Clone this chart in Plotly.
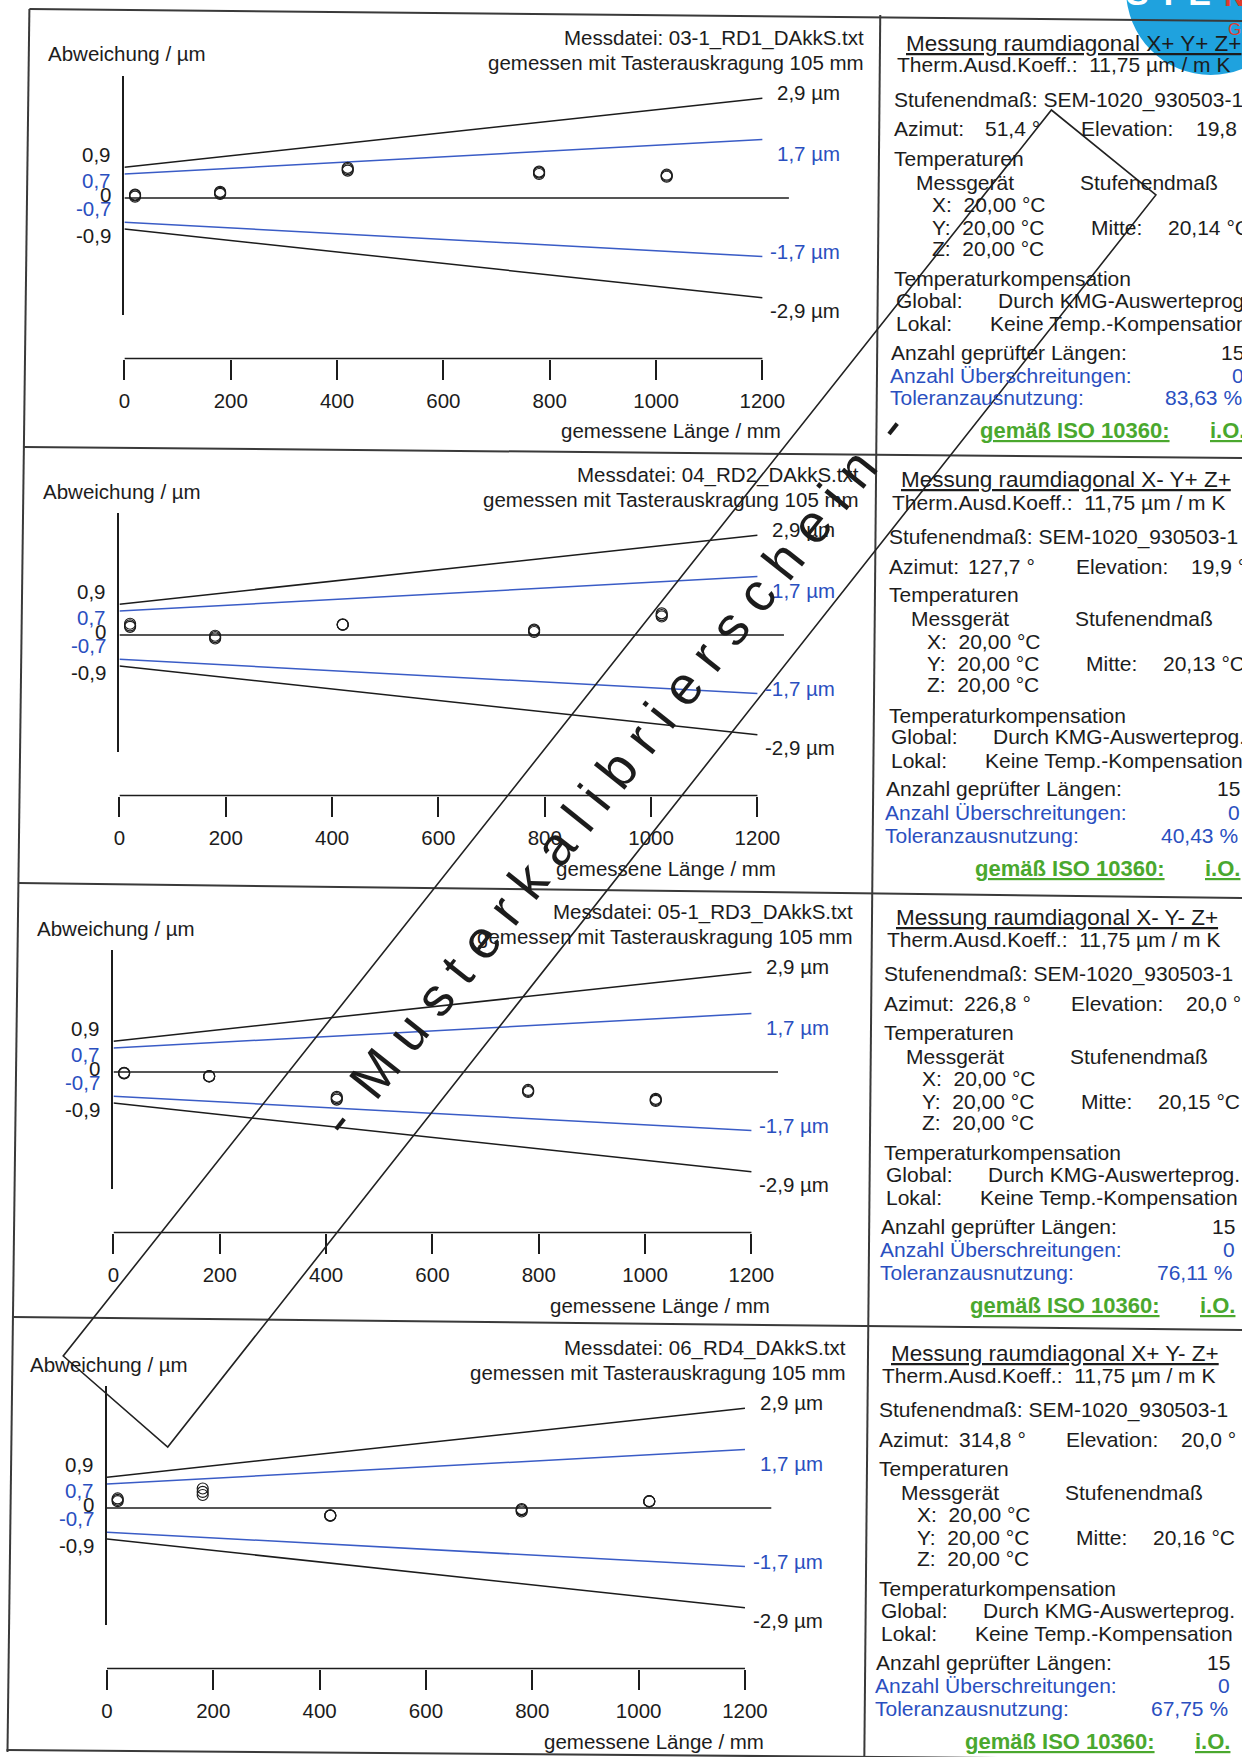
import plotly.graph_objects as go

W, H = 1242, 1757

# ---------------- data ----------------
lengths = [20, 180, 420, 780, 1020]   # gemessene Länge / mm (3 Wiederholungen je Länge)
panel_files = ["03-1_RD1_DAkkS.txt", "04_RD2_DAkkS.txt", "05-1_RD3_DAkkS.txt", "06_RD4_DAkkS.txt"]
panel_dirs = ["X+ Y+ Z+", "X- Y+ Z+", "X- Y- Z+", "X+ Y- Z+"]
azimut = ["51,4 °", "127,7 °", "226,8 °", "314,8 °"]
elevation = ["19,8 °", "19,9 °", "20,0 °", "20,0 °"]
mitte = ["20,14 °C", "20,13 °C", "20,15 °C", "20,16 °C"]
anzahl = ["15", "15", "15", "15"]
ueberschr = ["0", "0", "0", "0"]
toleranz = ["83,63 %", "40,43 %", "76,11 %", "67,75 %"]

dev_rd1 = [[0.04, 0.08, 0.10], [0.12, 0.15, 0.18], [0.80, 0.84, 0.88], [0.70, 0.74, 0.77], [0.62, 0.65, 0.68]]
dev_rd2 = [[0.24, 0.28, 0.33], [-0.10, -0.06, -0.02], [0.30, 0.30, 0.31], [0.09, 0.13, 0.16], [0.54, 0.58, 0.63]]
dev_rd3 = [[-0.04, -0.03, -0.02], [-0.13, -0.12, -0.12], [-0.80, -0.76, -0.72], [-0.58, -0.55, -0.52], [-0.84, -0.81, -0.78]]
dev_rd4 = [[0.20, 0.24, 0.28], [0.38, 0.47, 0.57], [-0.22, -0.22, -0.21], [-0.10, -0.06, -0.03], [0.19, 0.20, 0.20]]
deviations = [dev_rd1, dev_rd2, dev_rd3, dev_rd4]

tol_x = [0, 1200]
outer_upper = [0.9, 2.9]
outer_lower = [-0.9, -2.9]
inner_upper = [0.7, 1.7]
inner_lower = [-0.7, -1.7]
zero_x = [0, 1250]
zero_y = [0, 0]

ytick_vals = [0.9, 0.7, 0, -0.7, -0.9]
ytick_text = ["0,9", "0,7", "0", "-0,7", "-0,9"]
xtick_vals = [0, 200, 400, 600, 800, 1000, 1200]
xtick_text = ["0", "200", "400", "600", "800", "1000", "1200"]
limit_vals = [2.9, 1.7, -1.7, -2.9]
limit_text = ["2,9 µm", "1,7 µm", "-1,7 µm", "-2,9 µm"]

# ---------------- styles / layout ----------------
FONT = "Liberation Sans, Arial, Helvetica, sans-serif"
TXT = "#1c1c1c"
BLUE_TXT = "#2a4fbf"
BLUE_LINE = "#3a5cc6"
GREEN = "#4aa82e"
FRAME = "#3a3a3a"

XOFF = -4.5
PX_PER_MM = 0.5342
Y_RANGE = [-3.4, 3.55]
chart_dx = [17.5, 12.5, 6.5, 0]
text_dx = [15, 10, 5, 0]
panel_dy = [0, 437, 874, 1310]

ytick_color = [TXT, BLUE_TXT, TXT, BLUE_TXT, TXT]
ytick_yshift = [13, -6, 4, 14, -6]
limit_color = [TXT, BLUE_TXT, BLUE_TXT, TXT]
limit_yshift = [6, -14, 5, -13]


def PX(x):
    return (x + XOFF) / W


def PY(y):
    return 1 - y / H


fig = go.Figure()
annotations = []
shapes = []


def ann(x, y, text, size=20.5, color=TXT, xanchor="left", bold=False, underline=False, angle=0):
    f = dict(family=FONT, size=size, color=color)
    if bold:
        f["weight"] = "bold"
    if underline:
        f["lineposition"] = "under"
    annotations.append(dict(x=PX(x), y=PY(y), xref="paper", yref="paper", text=text, showarrow=False,
                            xanchor=xanchor, yanchor="middle", font=f, textangle=angle))


for i in range(4):
    n = i + 1
    xs = "" if n == 1 else str(n)
    dx, dy, tdx = chart_dx[i], panel_dy[i], text_dx[i]
    x0 = 106 + dx
    xa = dict(domain=[PX(x0), PX(x0 + 1250 * PX_PER_MM)], range=[0, 1250], anchor="free",
              position=PY(358.5 + dy), showgrid=False, zeroline=False, showline=False,
              ticks="outside", ticklen=20, tickwidth=1.5, tickcolor=TXT,
              tickvals=xtick_vals, ticktext=xtick_text, ticklabelstandoff=4,
              tickfont=dict(family=FONT, size=20.5, color=TXT))
    ya = dict(domain=[PY(315 + dy), PY(76 + dy)], range=Y_RANGE, anchor="x" + xs,
              showgrid=False, zeroline=False, showline=True, linecolor=TXT, linewidth=1.5,
              showticklabels=False, ticks="")
    fig.layout["xaxis" + xs] = xa
    fig.layout["yaxis" + xs] = ya
    xr, yr = "x" + xs, "y" + xs

    def line(x, y, color):
        fig.add_trace(go.Scatter(x=x, y=y, mode="lines", xaxis=xr, yaxis=yr, hoverinfo="skip",
                                 line=dict(color=color, width=1.5)))

    line(zero_x, zero_y, TXT)
    line(tol_x, outer_upper, TXT)
    line(tol_x, outer_lower, TXT)
    line(tol_x, inner_upper, BLUE_LINE)
    line(tol_x, inner_lower, BLUE_LINE)

    px_, py_ = [], []
    for L, reps in zip(lengths, deviations[i]):
        for v in reps:
            px_.append(L)
            py_.append(v)
    fig.add_trace(go.Scatter(x=px_, y=py_, mode="markers", xaxis=xr, yaxis=yr,
                             marker=dict(symbol="circle-open", size=11, color=TXT, line=dict(width=1.2))))

    # x axis base line (0 .. 1200 mm)
    shapes.append(dict(type="line", xref=xr, yref="paper", x0=0, x1=1200,
                       y0=PY(358.5 + dy), y1=PY(358.5 + dy), line=dict(color=TXT, width=1.5)))

    # y tick labels
    for v, t, c, s in zip(ytick_vals, ytick_text, ytick_color, ytick_yshift):
        annotations.append(dict(x=0, y=v, xref=xr, yref=yr, text=t, showarrow=False, xanchor="right",
                                yanchor="middle", xshift=-11, yshift=s,
                                font=dict(family=FONT, size=20.5, color=c)))
    # limit labels
    for v, t, c, s in zip(limit_vals, limit_text, limit_color, limit_yshift):
        annotations.append(dict(x=1200, y=v, xref=xr, yref=yr, text=t, showarrow=False, xanchor="right",
                                yanchor="middle", xshift=80, yshift=s,
                                font=dict(family=FONT, size=20.5, color=c)))

    ann(27 + dx, 54 + dy, "Abweichung / µm")
    ann(851 + dx, 38 + dy, "Messdatei: " + panel_files[i], xanchor="right")
    ann(851 + dx, 62.5 + dy, "gemessen mit Tasterauskragung 105 mm", xanchor="right")
    ann(768 + dx, 431 + dy, "gemessene Länge / mm", xanchor="right")

    # right column
    X = lambda v: v + tdx
    Y = lambda v: v + dy
    ann(X(892), Y(43), "Messung raumdiagonal " + panel_dirs[i], size=22.5, underline=True)
    ann(X(883), Y(65), "Therm.Ausd.Koeff.:  11,75 µm / m K", size=21)
    ann(X(880), Y(100), "Stufenendmaß: SEM-1020_930503-1", size=21)
    ann(X(880), Y(129), "Azimut:", size=21)
    ann(X(1031), Y(129), azimut[i], size=21, xanchor="right")
    ann(X(1068), Y(129), "Elevation:", size=21)
    ann(X(1183), Y(129), elevation[i], size=21)
    ann(X(880), Y(158), "Temperaturen", size=21)
    ann(X(902), Y(182), "Messgerät", size=21)
    ann(X(1067), Y(182), "Stufenendmaß", size=21)
    ann(X(918), Y(204), "X:  20,00 °C", size=21)
    ann(X(918), Y(227), "Y:  20,00 °C", size=21)
    ann(X(1078), Y(227), "Mitte:", size=21)
    ann(X(1155), Y(227), mitte[i], size=21)
    ann(X(918), Y(248), "Z:  20,00 °C", size=21)
    ann(X(880), Y(278), "Temperaturkompensation", size=21)
    ann(X(882), Y(300), "Global:", size=21)
    ann(X(984), Y(300), "Durch KMG-Auswerteprog.", size=21)
    ann(X(882), Y(323), "Lokal:", size=21)
    ann(X(976), Y(323), "Keine Temp.-Kompensation", size=21)
    ann(X(877), Y(352), "Anzahl geprüfter Längen:", size=21)
    ann(X(1236), Y(352), anzahl[i], size=21, xanchor="right")
    ann(X(876), Y(375), "Anzahl Überschreitungen:", size=21, color=BLUE_TXT)
    ann(X(1236), Y(375), ueberschr[i], size=21, color=BLUE_TXT, xanchor="right")
    ann(X(876), Y(398), "Toleranzausnutzung:", size=21, color=BLUE_TXT)
    ann(X(1234), Y(398), toleranz[i], size=21, color=BLUE_TXT, xanchor="right")
    ann(X(966), Y(431), "gemäß ISO 10360:", size=22, color=GREEN, bold=True, underline=True)
    ann(X(1197), Y(431), "i.O.", size=22, color=GREEN, bold=True, underline=True)

# ---------------- frame (slightly rotated scan) ----------------
def seg(x0, y0, x1, y1, w=2, color=FRAME, layer="above"):
    shapes.append(dict(type="line", xref="paper", yref="paper", x0=PX(x0), y0=PY(y0),
                       x1=PX(x1), y1=PY(y1), line=dict(color=color, width=w), layer=layer))

seg(28, 9, 1250, 21)
seg(28, 9, 6, 1752)
seg(883, 15, 867, 1757)
seg(22, 447, 1250, 458)
seg(17, 883, 1250, 898)
seg(11, 1317, 1250, 1330)
seg(5, 1750, 1250, 1760)

# logo remnant (top right)
shapes.append(dict(type="circle", xref="paper", yref="paper", x0=PX(1130), x1=PX(1300),
                   y0=PY(75), y1=PY(-95), fillcolor="#1fa2de", line=dict(width=0), layer="below"))
annotations.append(dict(x=PX(1128), y=PY(14), xref="paper", yref="paper", text="<b>S T E</b>",
                        showarrow=False, xanchor="left", yanchor="bottom",
                        font=dict(family=FONT, size=34, color="white")))
annotations.append(dict(x=PX(1226), y=PY(14), xref="paper", yref="paper", text="<b>N</b>",
                        showarrow=False, xanchor="left", yanchor="bottom",
                        font=dict(family=FONT, size=30, color="#e03a2c")))
annotations.append(dict(x=PX(1230), y=PY(29), xref="paper", yref="paper", text="G",
                        showarrow=False, xanchor="left", yanchor="middle",
                        font=dict(family=FONT, size=17, color="#e03a2c")))

# watermark stamp
stamp = [(62, 1356), (167, 1447), (1160, 195), (1055, 110)]
path = "M " + " L ".join(f"{PX(x):.5f},{PY(y):.5f}" for x, y in stamp) + " Z"
shapes.append(dict(type="path", xref="paper", yref="paper", path=path,
                   line=dict(color="#222222", width=1.6), layer="above"))
nb = "\u00a0"
word = nb.join("Musterkalibrierschein")
stamp_text = "-" + nb * 2 + word + nb * 2 + "-"
annotations.append(dict(x=PX(614), y=PY(774), xref="paper", yref="paper", text=stamp_text,
                        showarrow=False, xanchor="center", yanchor="middle", textangle=-51.5,
                        font=dict(family=FONT, size=54, color="#1c1c1c")))

fig.update_layout(width=W, height=H, margin=dict(l=0, r=0, t=0, b=0), showlegend=False,
                  paper_bgcolor="white", plot_bgcolor="rgba(0,0,0,0)",
                  annotations=annotations, shapes=shapes)

fig.write_html("out.html", config={"displayModeBar": False},
               post_script="document.body.style.margin='0';document.body.style.overflow='hidden';")
